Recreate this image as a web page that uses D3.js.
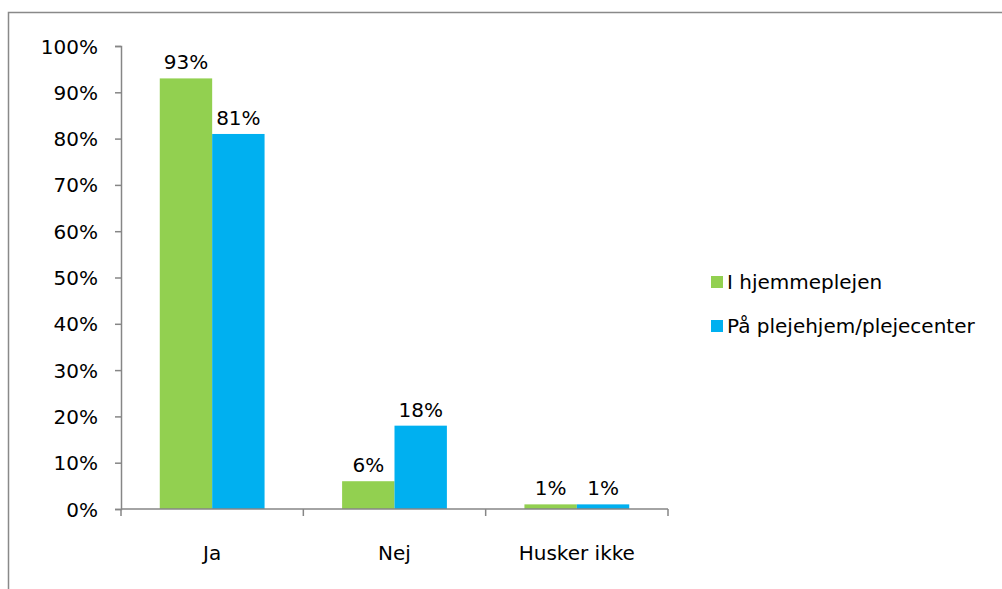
<!DOCTYPE html>
<html>
<head>
<meta charset="utf-8">
<script src="https://cdn.jsdelivr.net/npm/d3@7"></script>
<style>
  body { margin: 0; background: #fff; }
  svg text { font-family: "DejaVu Sans", Verdana, sans-serif; fill: #000; }
</style>
</head>
<body>
<svg id="chart" width="1002" height="589"></svg>
<script>
// Answer categories and the two respondent groups
const categories = ['Ja', 'Nej', 'Husker ikke']
const seriesNames = ['I hjemmeplejen', 'På plejehjem/plejecenter']
const hjemmeplejen = [93, 6, 1]
const plejehjem = [81, 18, 1]
const yTicks = [0, 10, 20, 30, 40, 50, 60, 70, 80, 90, 100]
const colors = ['#92D050', '#00B0F0']

const svg = d3.select('#chart')
const margins = { left: 121, top: 46, right: 334, bottom: 80 }
const width = 1002 - margins.left - margins.right
const height = 589 - margins.top - margins.bottom

// outer chart frame (runs off the right and bottom of the picture)
svg.append('rect')
  .attr('x', 8.5).attr('y', 12.5)
  .attr('width', 1100).attr('height', 700)
  .attr('fill', 'none')
  .attr('stroke', '#898989')
  .attr('stroke-width', 1.5)

const g = svg.append('g')
  .attr('transform', `translate(${margins.left},${margins.top})`)

const xScale = d3.scaleBand().domain(categories).range([0, width])
const xInner = d3.scaleBand().domain([0, 1])
  .range([0, xScale.bandwidth()]).paddingOuter(0.74).paddingInner(0)
const yScale = d3.scaleLinear().domain([0, 100]).range([height, 0])

const rows = categories.map((c, i) => ({ cat: c, vals: [hjemmeplejen[i], plejehjem[i]] }))

// bars
const groups = g.selectAll('.grp').data(rows).enter().append('g')
  .attr('class', 'grp')
  .attr('transform', d => `translate(${xScale(d.cat)},0)`)

groups.selectAll('rect').data(d => d.vals).enter().append('rect')
  .attr('x', (d, i) => xInner(i))
  .attr('y', d => yScale(d))
  .attr('width', xInner.bandwidth())
  .attr('height', d => height - yScale(d))
  .attr('fill', (d, i) => colors[i])

groups.selectAll('.lbl').data(d => d.vals).enter().append('text')
  .attr('class', 'lbl')
  .attr('x', (d, i) => xInner(i) + xInner.bandwidth() / 2)
  .attr('y', d => yScale(d) - 9)
  .attr('text-anchor', 'middle')
  .style('font-size', '20px')
  .text(d => d + '%')

// y axis
const yAxis = g.append('g')
  .call(d3.axisLeft(yScale).tickValues(yTicks).tickSize(6).tickFormat(d => d + '%'))
yAxis.select('.domain').attr('stroke', '#868686').attr('stroke-width', 1.5)
yAxis.selectAll('.tick line').attr('stroke', '#868686').attr('stroke-width', 1.5)
yAxis.selectAll('.tick text').attr('x', -23).style('font-size', '20px').attr('dy', '0.35em')

// x axis with ticks between categories
const xAxis = g.append('g').attr('transform', `translate(0,${height})`)
xAxis.append('line').attr('x1', 0).attr('x2', width)
  .attr('stroke', '#868686').attr('stroke-width', 1.5)
xAxis.selectAll('.sep').data(d3.range(categories.length + 1)).enter().append('line')
  .attr('x1', i => i * xScale.step()).attr('x2', i => i * xScale.step())
  .attr('y1', 0).attr('y2', 7)
  .attr('stroke', '#868686').attr('stroke-width', 1.5)
xAxis.selectAll('.cat').data(categories).enter().append('text')
  .attr('x', d => xScale(d) + xScale.bandwidth() / 2)
  .attr('y', 51)
  .attr('text-anchor', 'middle')
  .style('font-size', '20px')
  .text(d => d)

// legend
const legend = svg.append('g').attr('transform', 'translate(711,270)')
const items = legend.selectAll('g').data(seriesNames).enter().append('g')
  .attr('transform', (d, i) => `translate(0,${i * 44})`)
items.append('rect').attr('x', 0).attr('y', 6).attr('width', 12).attr('height', 12)
  .attr('fill', (d, i) => colors[i])
items.append('text').attr('x', 16).attr('y', 19)
  .style('font-size', '20px')
  .text(d => d)
</script>
</body>
</html>
